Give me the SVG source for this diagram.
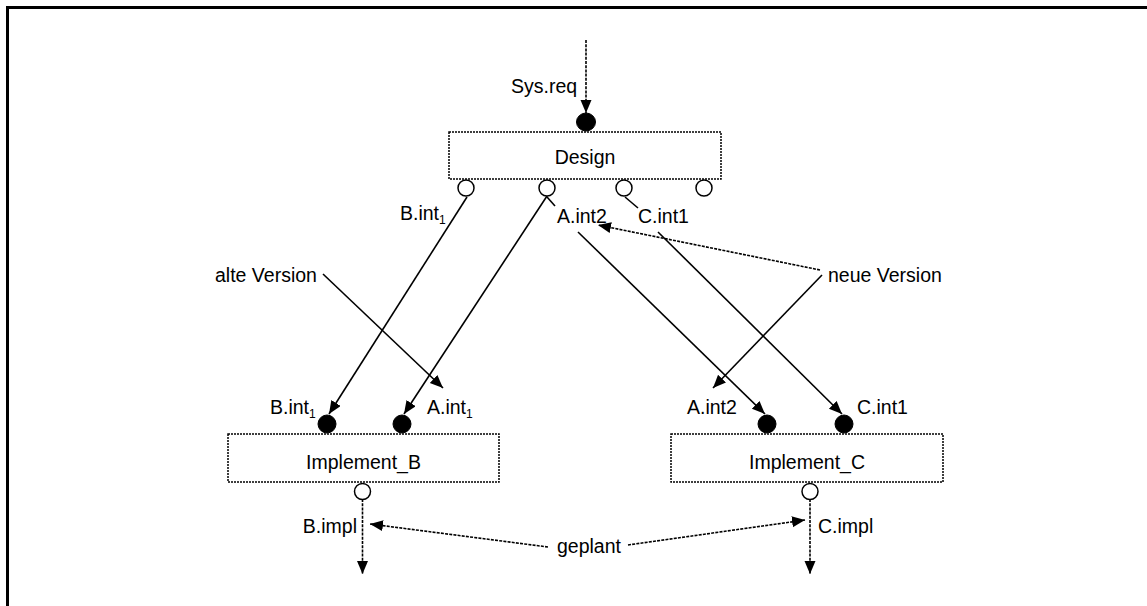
<svg xmlns="http://www.w3.org/2000/svg" width="1147" height="606" viewBox="0 0 1147 606">
<style>
text{font-family:"Liberation Sans",Arial,sans-serif;font-size:19.5px;fill:#000}
.sub{font-size:12px}
.box{fill:#fff;stroke:#000;stroke-width:1.5;stroke-dasharray:2 1}
.in{fill:#000;stroke:#000;stroke-width:1}
.out{fill:#fff;stroke:#000;stroke-width:1.5}
.s{stroke:#000;stroke-width:1.6;fill:none}
.d{stroke:#000;stroke-width:1.6;fill:none;stroke-dasharray:3 1.2}
.mid{text-anchor:middle}
</style>
<defs>
<marker id="ah" markerUnits="userSpaceOnUse" markerWidth="14" markerHeight="12" refX="13" refY="5.5" orient="auto">
<path d="M0,0 L13,5.5 L0,11 z" fill="#000"/>
</marker>
</defs>
<rect width="1147" height="606" fill="#fff"/>
<path d="M7.5,606 V7.5 H1147" fill="none" stroke="#000" stroke-width="3"/>

<g id="connectors">
<line class="d" x1="586" y1="40" x2="586" y2="113" marker-end="url(#ah)"/>
<line class="s" x1="467" y1="197" x2="329" y2="414" marker-end="url(#ah)"/>
<line class="s" x1="547" y1="196" x2="404" y2="414" marker-end="url(#ah)"/>
<line class="s" x1="547" y1="197" x2="555" y2="206"/>
<line class="s" x1="578" y1="232" x2="765" y2="414" marker-end="url(#ah)"/>
<line class="s" x1="625" y1="197" x2="638" y2="208"/>
<line class="s" x1="658" y1="232" x2="842" y2="414" marker-end="url(#ah)"/>
<line class="s" x1="323" y1="274" x2="443" y2="388" marker-end="url(#ah)"/>
<line class="d" x1="820" y1="270" x2="598" y2="225" marker-end="url(#ah)"/>
<line class="s" x1="822" y1="275" x2="713" y2="388" marker-end="url(#ah)"/>
<line class="d" x1="548" y1="547" x2="370" y2="524" marker-end="url(#ah)"/>
<line class="d" x1="628" y1="545" x2="805" y2="520" marker-end="url(#ah)"/>
<line class="d" x1="362.5" y1="499" x2="362.5" y2="574" marker-end="url(#ah)"/>
<line class="d" x1="810" y1="499" x2="810" y2="574" marker-end="url(#ah)"/>
</g>

<g id="design">
<rect class="box" x="449" y="132" width="272" height="47"/>
<text class="mid" x="585" y="164">Design</text>
<ellipse class="in" cx="586" cy="122" rx="9.5" ry="9"/>
<circle class="out" cx="466" cy="188" r="8"/>
<circle class="out" cx="547" cy="188" r="8"/>
<circle class="out" cx="624" cy="188" r="8"/>
<circle class="out" cx="704" cy="188" r="8"/>
</g>

<g id="implement_b">
<rect class="box" x="228" y="434" width="271" height="48"/>
<text class="mid" x="363.5" y="469">Implement_B</text>
<circle class="in" cx="327" cy="424" r="9"/>
<circle class="in" cx="402" cy="424" r="9"/>
<circle class="out" cx="362.5" cy="491.5" r="8"/>
</g>

<g id="implement_c">
<rect class="box" x="671" y="434" width="272" height="48"/>
<text class="mid" x="807" y="469">Implement_C</text>
<circle class="in" cx="767" cy="424" r="9"/>
<circle class="in" cx="844" cy="424" r="9"/>
<circle class="out" cx="810" cy="491.5" r="8"/>
</g>

<g id="labels">
<text x="511" y="93">Sys.req</text>
<text x="400" y="220">B.int<tspan class="sub" dy="4">1</tspan></text>
<text x="557" y="223">A.int2</text>
<text x="638" y="223">C.int1</text>
<text x="215" y="282">alte Version</text>
<text x="828" y="282">neue Version</text>
<text x="270" y="414">B.int<tspan class="sub" dy="4">1</tspan></text>
<text x="427" y="414">A.int<tspan class="sub" dy="4">1</tspan></text>
<text x="687" y="414">A.int2</text>
<text x="857" y="414">C.int1</text>
<text x="357" y="533" text-anchor="end">B.impl</text>
<text x="818" y="533">C.impl</text>
<text x="557" y="553">geplant</text>
</g>
</svg>
